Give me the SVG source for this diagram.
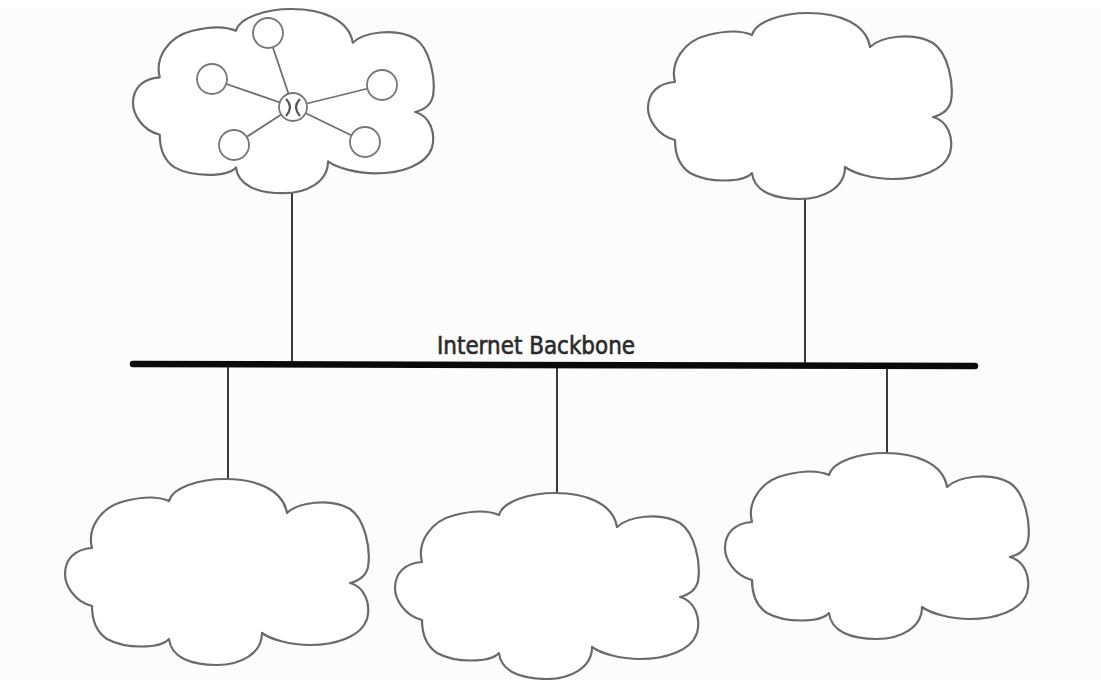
<svg xmlns="http://www.w3.org/2000/svg" xmlns:xlink="http://www.w3.org/1999/xlink" width="1101" height="680" viewBox="0 0 1101 680">
<style>
.cloud{fill:#fff;stroke:#6a6a6a;stroke-width:2.2;stroke-linejoin:round}
.link{stroke:#3a3a3a;stroke-width:2;fill:none}
.spoke{stroke:#6e6e6e;stroke-width:1.8;fill:none}
.host{fill:#fff;stroke:#777;stroke-width:1.8}
.label{font-family:"DejaVu Sans Condensed","DejaVu Sans",sans-serif;font-size:25px;fill:#2a2a2a;stroke:#2a2a2a;stroke-width:0.6}
</style>
<defs>
<path id="cloudShape" d="M104,22 C108,8 135,0 160,0 C190,0 218,10 222,34 C232,24 265,18 285,30 C300,40 306,70 303,88 C301,97 293,102 285,104 C300,108 306,125 302,140 C296,158 270,166 245,166 C225,166 205,160 197,154 C197,175 175,186 152,186 C125,186 106,178 104,160 C95,170 60,170 42,160 C30,152 27,140 27,127 C8,122 0,105 0,95 C0,80 10,70 27,69 C22,50 35,28 60,22 C80,17 95,18 104,22 Z"/>
</defs>
<rect x="0" y="0" width="1101" height="680" fill="#fcfcfc"/>
<rect x="0" y="0" width="1101" height="8" fill="#ffffff"/>
<g id="connectors">
<line class="link" x1="292" y1="190" x2="292" y2="364"/>
<line class="link" x1="805" y1="196" x2="805" y2="364"/>
<line class="link" x1="228" y1="364" x2="228" y2="481"/>
<line class="link" x1="557" y1="364" x2="557" y2="495"/>
<line class="link" x1="887" y1="364" x2="887" y2="455"/>
</g>
<g id="backbone">
<path d="M133,364 L975,366" stroke="#0a0a0a" stroke-width="6.5" stroke-linecap="round" fill="none"/>
<text class="label" x="437" y="354" textLength="198" lengthAdjust="spacingAndGlyphs">Internet Backbone</text>
</g>
<g id="cloud-top-left">
<use xlink:href="#cloudShape" class="cloud" transform="translate(133,9) scale(0.99)"/>
<g id="star-network">
<line class="spoke" x1="293" y1="107" x2="268" y2="33"/>
<line class="spoke" x1="293" y1="107" x2="212" y2="79"/>
<line class="spoke" x1="293" y1="107" x2="382" y2="85"/>
<line class="spoke" x1="293" y1="107" x2="234" y2="145"/>
<line class="spoke" x1="293" y1="107" x2="365" y2="142"/>
<circle class="host" cx="268" cy="33" r="15"/>
<circle class="host" cx="212" cy="79" r="15"/>
<circle class="host" cx="382" cy="85" r="15"/>
<circle class="host" cx="234" cy="145" r="15"/>
<circle class="host" cx="365" cy="142" r="15"/>
<circle class="host" cx="293" cy="107" r="14"/>
<path d="M286,99 Q294,107 286,116 M300,99 Q292,107 300,116" stroke="#555" stroke-width="2" fill="none"/>
</g>
</g>
<g id="cloud-top-right">
<use xlink:href="#cloudShape" class="cloud" transform="translate(648,13)"/>
</g>
<g id="cloud-bottom-left">
<use xlink:href="#cloudShape" class="cloud" transform="translate(65,479)"/>
</g>
<g id="cloud-bottom-middle">
<use xlink:href="#cloudShape" class="cloud" transform="translate(395,493)"/>
</g>
<g id="cloud-bottom-right">
<use xlink:href="#cloudShape" class="cloud" transform="translate(725,453)"/>
</g>
</svg>
